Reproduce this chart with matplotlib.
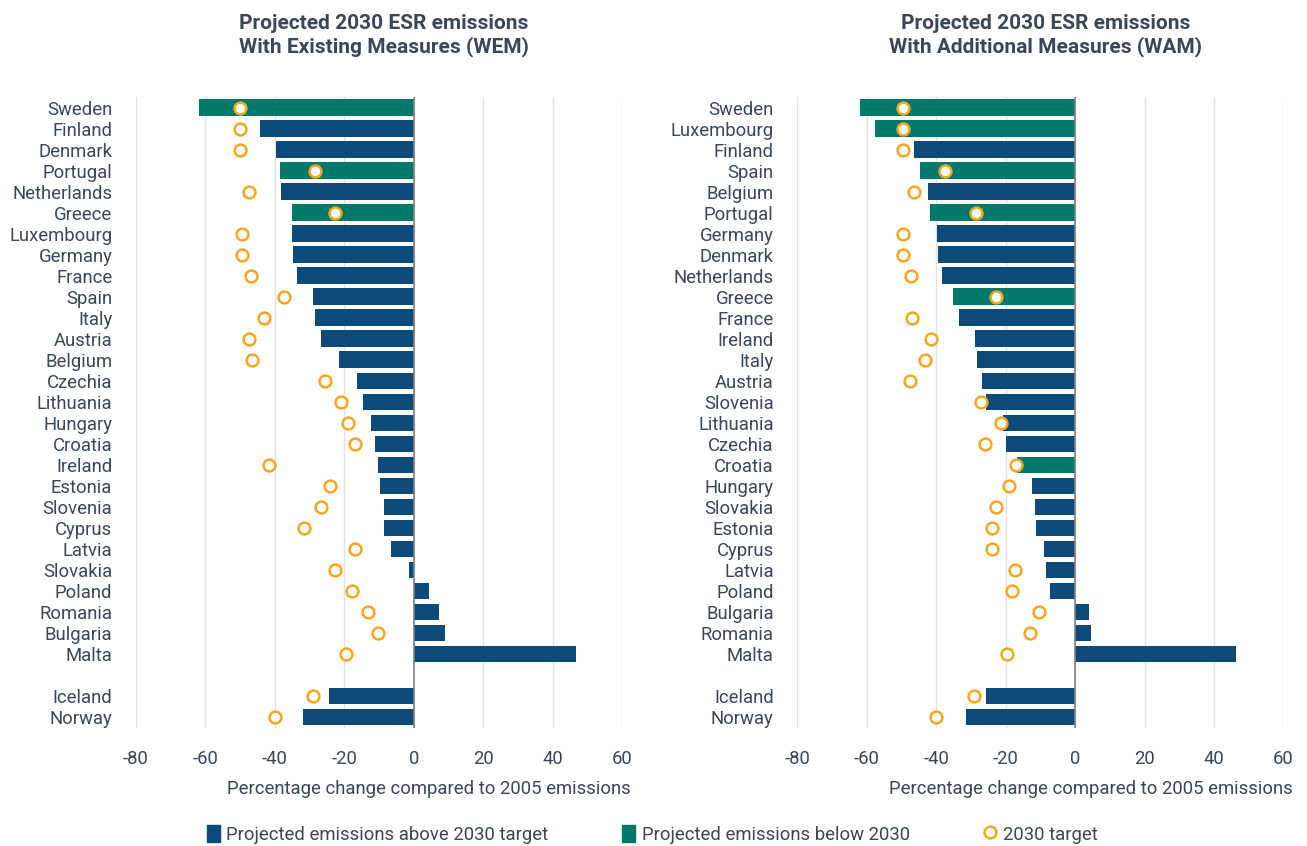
import matplotlib
matplotlib.use('Agg')
from matplotlib import pyplot as plt
from matplotlib.patches import Patch
from matplotlib.lines import Line2D
import numpy as np

plt.rcParams['font.family'] = ['Roboto', 'DejaVu Sans']
plt.rcParams['axes.unicode_minus'] = False

# WEM panel
wem_countries = ['Sweden', 'Finland', 'Denmark', 'Portugal', 'Netherlands', 'Greece',
                 'Luxembourg', 'Germany', 'France', 'Spain', 'Italy', 'Austria', 'Belgium',
                 'Czechia', 'Lithuania', 'Hungary', 'Croatia', 'Ireland', 'Estonia',
                 'Slovenia', 'Cyprus', 'Latvia', 'Slovakia', 'Poland', 'Romania',
                 'Bulgaria', 'Malta', 'Iceland', 'Norway']
wem_values = [-61.8, -44.2, -39.6, -38.4, -38.1, -35.2, -35.2, -34.7, -33.5, -28.9,
              -28.3, -26.6, -21.4, -16.2, -14.6, -12.2, -11.1, -10.3, -9.7, -8.7,
              -8.7, -6.5, -1.3, 4.4, 7.4, 8.9, 46.6, -24.4, -31.9]
wem_targets = [-50, -50, -50, -28.5, -47.5, -22.6, -49.5, -49.5, -47, -37.5, -43,
               -47.5, -46.5, -25.7, -21, -18.8, -16.9, -41.7, -24, -26.8, -31.6, -17,
               -22.6, -17.8, -13.3, -10.4, -19.4, -29, -40]
wem_below = ['Sweden', 'Portugal', 'Greece']

# WAM panel
wam_countries = ['Sweden', 'Luxembourg', 'Finland', 'Spain', 'Belgium', 'Portugal',
                 'Germany', 'Denmark', 'Netherlands', 'Greece', 'France', 'Ireland',
                 'Italy', 'Austria', 'Slovenia', 'Lithuania', 'Czechia', 'Croatia',
                 'Hungary', 'Slovakia', 'Estonia', 'Cyprus', 'Latvia', 'Poland',
                 'Bulgaria', 'Romania', 'Malta', 'Iceland', 'Norway']
wam_values = [-61.8, -57.5, -46.3, -44.6, -42.3, -41.8, -39.7, -39.4, -38.3, -35.3,
              -33.3, -28.8, -28.2, -26.8, -25.6, -20.8, -19.8, -16.6, -12.3, -11.5,
              -11.3, -8.9, -8.4, -7.2, 4.0, 4.6, 46.3, -25.6, -31.3]
wam_targets = [-49.6, -49.6, -49.6, -37.5, -46.4, -28.6, -49.6, -49.6, -47.2, -22.8,
               -47, -41.6, -43.2, -47.4, -27, -21.2, -26, -17.1, -18.9, -22.8, -24,
               -24, -17.2, -18.3, -10.4, -13, -19.6, -29, -40.1]
wam_below = ['Sweden', 'Luxembourg', 'Spain', 'Portugal', 'Greece', 'Croatia']

NAVY = '#0b4a7a'
GREEN = '#00796a'
ORANGE = '#f5a623'
TEXT = '#3b4656'
FS = 13.3

positions = list(range(27)) + [28, 29]

fig = plt.figure(figsize=(13.07, 8.46), dpi=100)
ax1 = fig.add_axes([0.104, 0.140, 0.372, 0.745])
ax2 = fig.add_axes([0.610, 0.140, 0.372, 0.745])

panels = [
    (ax1, wem_countries, wem_values, wem_targets, wem_below,
     'Projected 2030 ESR emissions\nWith Existing Measures (WEM)'),
    (ax2, wam_countries, wam_values, wam_targets, wam_below,
     'Projected 2030 ESR emissions\nWith Additional Measures (WAM)'),
]

for ax, countries, values, targets, below, title in panels:
    colors = [GREEN if c in below else NAVY for c in countries]
    ax.barh(positions, values, height=0.8, color=colors, zorder=2)
    ax.plot(targets, positions, 'o', markersize=8.5, markerfacecolor='white',
            markeredgecolor=ORANGE, markeredgewidth=1.8, linestyle='none', zorder=3)
    ax.axvline(0, color='#808080', linewidth=1.2, zorder=2.5)
    ax.set_xlim(-80, 60)
    ax.set_ylim(29.5, -0.5)
    ax.set_xticks(np.arange(-80, 61, 20))
    ax.set_yticks(positions)
    ax.set_yticklabels(countries)
    ax.grid(axis='x', color='#e3e3e3', linewidth=1, zorder=0)
    ax.set_axisbelow(True)
    for s in ax.spines.values():
        s.set_visible(False)
    ax.tick_params(axis='both', length=0, labelsize=FS, colors=TEXT)
    ax.tick_params(axis='x', pad=16)
    ax.tick_params(axis='y', pad=17)
    ax.set_xlabel('Percentage change compared to 2005 emissions', fontsize=FS,
                  color=TEXT)
    ax.xaxis.set_label_coords(0.603, -0.083)
    ax.set_title(title, fontsize=15, fontweight='bold', color=TEXT, pad=32,
                 x=0.51, linespacing=1.25)

handles = [Patch(color=NAVY), Patch(color=GREEN),
           Line2D([], [], marker='o', linestyle='none', markersize=8.5,
                  markerfacecolor='white', markeredgecolor=ORANGE, markeredgewidth=1.8)]
labels = ['Projected emissions above 2030 target', 'Projected emissions below 2030',
          '2030 target']
leg = fig.legend(handles, labels, loc='center', bbox_to_anchor=(0.499, 0.014), ncol=3,
                 frameon=False, fontsize=FS, handlelength=0.7, handleheight=1.1,
                 handletextpad=0.35, columnspacing=4.0)
for t in leg.get_texts():
    t.set_color(TEXT)

fig.savefig('out.png', dpi=100)
